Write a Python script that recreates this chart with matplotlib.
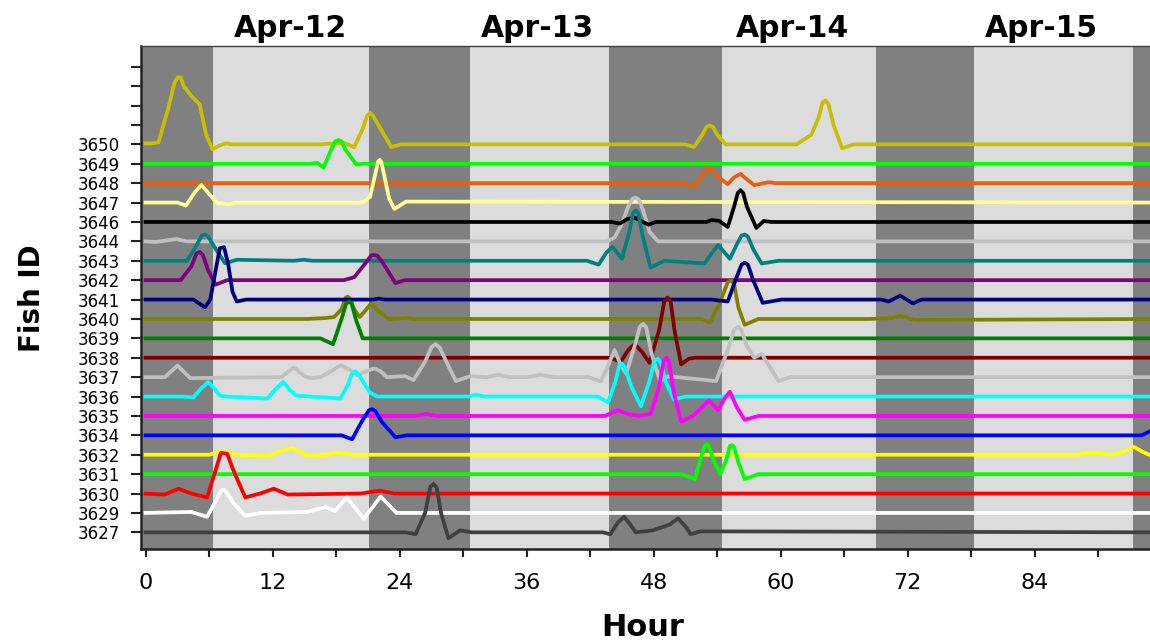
import matplotlib
matplotlib.use("Agg")
import matplotlib.pyplot as plt
from matplotlib.transforms import blended_transform_factory

# ---------------- data ----------------
fish_ids = ["3627", "3629", "3630", "3631", "3632", "3634", "3635", "3636", "3637",
            "3638", "3639", "3640", "3641", "3642", "3643", "3644", "3646", "3647",
            "3648", "3649", "3650"]

# activity traces: hour, offset above the fish's baseline (in row units)
h3650 = [-0.2, 0.5, 1.2, 2.2, 2.7, 3.0, 3.3, 3.6, 4.3, 5.1, 5.7, 6.3, 7.0, 7.6, 8.3, 16.3, 18.8, 19.7, 20.5, 20.9, 21.2, 21.5, 22.2, 23.2, 24.1, 51.0, 51.8, 52.6, 53.0, 53.3, 53.6, 54.0, 54.8, 61.5, 62.9, 63.6, 63.95, 64.2, 64.5, 65.0, 65.8, 66.9, 96.0]
v3650 = [0.05, 0.05, 0.1, 2.0, 3.15, 3.45, 3.45, 3.0, 2.5, 2.07, 0.5, -0.26, -0.05, 0.05, 0.0, 0.0, 0.07, -0.15, 0.8, 1.45, 1.62, 1.45, 0.8, -0.14, 0.0, 0.0, -0.14, 0.5, 0.9, 0.98, 0.9, 0.5, 0.0, 0.0, 0.5, 1.4, 2.15, 2.26, 2.1, 1.0, -0.2, 0.0, 0.0]
h3649 = [-0.2, 15.6, 16.2, 16.8, 17.5, 17.9, 18.2, 18.5, 18.9, 19.9, 20.5, 96.0]
v3649 = [0.0, 0.0, 0.05, -0.19, 0.7, 1.15, 1.22, 1.15, 0.7, -0.03, 0.0, 0.0]
h3648 = [-0.2, 50.6, 51.9, 52.6, 53.2, 53.9, 55.0, 55.6, 56.2, 56.8, 57.5, 58.9, 59.5, 96.0]
v3648 = [0.0, 0.0, -0.15, 0.45, 0.84, 0.4, -0.05, 0.3, 0.48, 0.2, -0.1, 0.05, 0.0, 0.0]
h3647 = [-0.2, 3.0, 3.8, 4.6, 5.25, 5.9, 6.7, 7.8, 8.5, 20.5, 21.2, 21.7, 21.95, 22.1, 22.25, 22.5, 23.0, 23.5, 24.6, 96.0]
v3647 = [0.0, 0.0, -0.15, 0.5, 0.91, 0.5, 0.0, -0.1, 0.0, 0.0, 0.3, 1.5, 2.1, 2.2, 2.1, 1.5, 0.2, -0.33, 0.05, 0.0]
h3646 = [-0.2, 44.0, 44.8, 45.5, 46.2, 46.8, 47.5, 48.2, 53.0, 53.5, 54.2, 55.0, 55.6, 55.95, 56.2, 56.45, 56.8, 57.7, 58.4, 59.1, 96.0]
v3646 = [0.0, 0.0, -0.08, 0.15, 0.22, 0.05, -0.14, 0.0, 0.0, 0.1, 0.05, -0.26, 0.8, 1.5, 1.64, 1.5, 0.8, -0.31, 0.05, 0.0, 0.0]
h3644 = [-0.2, 1.0, 2.0, 2.9, 3.8, 6.7, 43.6, 44.3, 44.9, 45.6, 46.0, 46.3, 46.6, 47.0, 47.6, 48.4, 96.0]
v3644 = [0.0, -0.03, 0.05, 0.12, 0.0, 0.0, 0.0, 0.2, 0.8, 1.8, 2.2, 2.25, 2.15, 1.6, 0.5, 0.0, 0.0]
h3643 = [-0.2, 3.9, 4.7, 5.3, 5.6, 5.9, 6.5, 7.5, 8.6, 14.0, 14.9, 15.8, 41.7, 42.8, 43.5, 44.1, 45.0, 45.7, 46.05, 46.3, 46.55, 46.9, 47.7, 49.0, 52.8, 53.5, 54.1, 55.2, 55.9, 56.3, 56.6, 56.9, 57.4, 58.2, 59.8, 96.0]
v3643 = [0.0, 0.0, 0.7, 1.3, 1.36, 1.25, 0.7, -0.13, 0.05, 0.0, 0.05, 0.0, 0.0, -0.2, 0.4, 0.72, 0.1, 1.5, 2.45, 2.6, 2.45, 1.4, -0.35, 0.0, -0.14, 0.4, 0.81, 0.1, 0.9, 1.3, 1.35, 1.25, 0.6, -0.14, 0.0, 0.0]
h3642 = [-0.2, 3.3, 4.3, 4.8, 5.1, 5.4, 5.9, 6.6, 7.7, 18.7, 19.7, 20.8, 21.3, 21.6, 21.9, 22.4, 23.6, 24.5, 96.0]
v3642 = [0.0, 0.0, 0.7, 1.38, 1.45, 1.3, 0.5, -0.23, 0.0, 0.0, 0.15, 0.9, 1.27, 1.3, 1.25, 0.9, -0.15, 0.0, 0.0]
h3641 = [-0.2, 4.5, 5.6, 6.1, 6.6, 7.0, 7.4, 7.8, 8.2, 8.6, 9.5, 21.5, 22.0, 22.6, 53.5, 55.0, 55.8, 56.3, 56.6, 56.9, 57.4, 58.3, 60.1, 69.5, 70.2, 71.3, 72.5, 73.3, 96.0]
v3641 = [0.0, 0.0, -0.4, 0.0, 1.5, 2.65, 2.7, 1.8, 0.4, -0.1, 0.0, 0.0, 0.05, 0.0, 0.0, -0.1, 1.1, 1.8, 1.9, 1.8, 1.0, -0.17, 0.0, 0.0, -0.1, 0.2, -0.2, 0.0, 0.0]
h3640 = [-0.2, 15.3, 17.0, 17.8, 18.5, 18.9, 19.1, 19.3, 19.7, 20.2, 20.7, 21.3, 22.0, 23.0, 24.7, 25.3, 52.5, 53.3, 54.3, 55.0, 55.3, 55.6, 56.0, 56.6, 57.9, 68.4, 70.5, 71.3, 72.0, 72.7, 96.0]
v3640 = [0.0, 0.0, 0.05, 0.1, 0.5, 1.1, 1.15, 1.05, 0.5, 0.1, 0.4, 0.8, 0.4, 0.0, 0.05, 0.0, 0.0, -0.2, 0.9, 1.9, 2.0, 1.8, 0.6, -0.3, 0.0, 0.0, 0.05, 0.15, 0.05, -0.05, 0.0]
h3639 = [-0.2, 16.5, 17.7, 18.5, 18.95, 19.2, 19.45, 19.9, 20.5, 96.0]
v3639 = [0.0, 0.0, -0.3, 1.0, 1.8, 1.9, 1.8, 0.9, 0.0, 0.0]
h3638 = [-0.2, 43.8, 44.9, 45.6, 46.2, 46.9, 47.6, 48.5, 49.0, 49.3, 49.6, 50.0, 50.6, 51.3, 51.9, 96.0]
v3638 = [0.0, 0.0, -0.2, 0.4, 0.7, 0.3, -0.26, 1.4, 2.9, 3.1, 2.9, 1.3, -0.34, -0.05, 0.0, 0.0]
h3637 = [-0.2, 1.8, 3.0, 4.2, 12.8, 14.0, 15.0, 15.6, 16.5, 17.5, 18.4, 19.2, 20.0, 20.8, 21.6, 22.2, 22.8, 24.5, 25.3, 26.4, 27.0, 27.4, 27.8, 28.4, 29.3, 30.7, 32.2, 33.3, 34.4, 36.0, 37.3, 38.6, 41.9, 43.0, 43.7, 44.3, 44.9, 45.4, 46.2, 46.7, 47.0, 47.3, 47.8, 48.6, 49.4, 50.2, 53.9, 55.0, 55.6, 56.0, 56.3, 56.8, 57.5, 58.2, 59.0, 59.8, 60.9, 96.0]
v3637 = [0.0, 0.0, 0.6, -0.05, 0.0, 0.5, 0.05, -0.05, 0.0, 0.3, 0.62, 0.4, 0.1, 0.3, 0.45, 0.3, 0.0, 0.05, -0.15, 0.8, 1.55, 1.7, 1.5, 0.8, -0.2, 0.05, 0.0, 0.12, 0.0, 0.0, 0.12, 0.0, 0.0, -0.23, 0.6, 1.4, 0.6, 0.18, 1.6, 2.6, 2.75, 2.55, 1.2, -0.2, 0.05, 0.0, -0.2, 1.4, 2.45, 2.6, 2.4, 1.6, 1.0, 1.2, 0.5, -0.2, 0.0, 0.0]
h3636 = [-0.2, 3.5, 4.5, 5.2, 5.9, 6.5, 7.0, 7.6, 11.5, 12.3, 13.0, 13.6, 14.2, 18.4, 19.1, 19.5, 19.8, 20.1, 20.5, 21.2, 21.9, 30.5, 31.2, 32.0, 42.7, 43.7, 44.4, 44.75, 45.0, 45.3, 45.9, 46.8, 47.6, 48.1, 48.4, 48.7, 49.1, 49.9, 51.0, 96.0]
v3636 = [0.0, 0.0, -0.05, 0.4, 0.75, 0.4, 0.05, 0.0, -0.1, 0.4, 0.75, 0.35, 0.05, -0.1, 0.6, 1.2, 1.3, 1.15, 0.8, 0.2, 0.0, 0.0, 0.1, 0.0, 0.0, -0.3, 0.8, 1.6, 1.7, 1.45, 0.5, -0.5, 0.8, 1.85, 1.95, 1.7, 0.8, -0.15, 0.0, 0.0]
h3635 = [-0.2, 25.5, 26.5, 27.5, 43.4, 44.6, 45.6, 46.6, 47.7, 48.5, 48.95, 49.2, 49.45, 49.9, 50.6, 51.7, 52.5, 53.2, 54.1, 54.7, 55.2, 55.9, 56.6, 57.9, 96.0]
v3635 = [0.0, 0.0, 0.1, 0.0, 0.0, 0.3, 0.1, 0.0, 0.1, 1.5, 2.85, 3.0, 2.8, 1.2, -0.3, 0.0, 0.4, 0.8, 0.3, 0.9, 1.25, 0.4, -0.2, 0.0, 0.0]
h3634 = [-0.2, 18.5, 19.5, 20.5, 21.1, 21.4, 21.7, 22.3, 23.6, 24.7, 94.1, 96.0]
v3634 = [0.0, 0.0, -0.2, 0.8, 1.3, 1.35, 1.25, 0.7, -0.1, 0.0, 0.0, 0.5]
h3632 = [-0.2, 6.0, 7.2, 8.5, 11.6, 12.8, 13.8, 14.6, 15.2, 17.0, 18.1, 19.6, 87.9, 89.4, 90.2, 91.6, 92.6, 93.4, 94.2, 94.8, 96.0]
v3632 = [0.0, 0.0, 0.2, 0.0, -0.05, 0.2, 0.35, 0.15, -0.05, 0.0, 0.1, 0.0, 0.0, 0.1, 0.05, 0.0, 0.2, 0.4, 0.15, 0.0, 0.0]
h3631 = [-0.2, 50.6, 51.9, 52.5, 52.8, 53.0, 53.2, 53.6, 54.3, 54.9, 55.2, 55.4, 55.6, 56.0, 56.6, 57.9, 96.0]
v3631 = [0.0, 0.0, -0.25, 0.9, 1.45, 1.55, 1.45, 0.8, 0.0, 0.8, 1.45, 1.5, 1.4, 0.6, -0.25, 0.0, 0.0]
h3630 = [-0.2, 1.8, 3.1, 4.3, 5.8, 6.6, 7.1, 7.7, 8.2, 9.4, 10.8, 12.1, 13.4, 20.3, 22.1, 23.5, 96.0]
v3630 = [0.0, -0.05, 0.25, 0.0, -0.2, 1.2, 2.1, 2.05, 1.3, -0.2, 0.0, 0.25, -0.05, 0.0, 0.15, 0.0, 0.0]
h3629 = [-0.2, 4.3, 5.8, 6.6, 7.1, 7.35, 7.6, 8.3, 9.4, 10.8, 15.2, 17.0, 17.9, 19.0, 20.6, 22.2, 23.7, 96.0]
v3629 = [0.0, 0.05, -0.2, 0.6, 1.15, 1.2, 1.1, 0.5, -0.15, 0.0, 0.05, 0.3, 0.1, 0.8, -0.3, 0.85, 0.0, 0.0]
h3627 = [-0.2, 24.6, 25.5, 26.4, 26.9, 27.2, 27.5, 27.9, 28.6, 29.7, 30.8, 43.2, 43.9, 44.6, 45.2, 45.8, 46.3, 47.9, 49.5, 50.3, 51.0, 51.5, 52.4, 96.0]
v3627 = [0.0, 0.0, -0.1, 1.0, 2.35, 2.5, 2.3, 1.0, -0.3, 0.1, 0.0, 0.0, -0.1, 0.5, 0.8, 0.4, 0.0, 0.1, 0.4, 0.72, 0.3, -0.1, 0.05, 0.0]

# dark (night) periods, hours
dark_start = [-1.0, 21.1, 43.8, 69.0, 93.3]
dark_end = [6.4, 30.6, 54.5, 78.3, 100.0]

day_labels = ["Apr-12", "Apr-13", "Apr-14", "Apr-15"]
day_label_hours = [13.7, 37.0, 61.1, 84.6]

hour_ticks = [0, 12, 24, 36, 48, 60, 72, 84]

# ---------------- styling ----------------
colors = {
    "3650": "#c8bf00", "3649": "#00ff00", "3648": "#e8600a", "3647": "#ffff99",
    "3646": "#000000", "3644": "#c0c0c0", "3643": "#008080", "3642": "#800080",
    "3641": "#000080", "3640": "#808000", "3639": "#008000", "3638": "#800000",
    "3637": "#c0c0c0", "3636": "#00ffff", "3635": "#ff00ff", "3634": "#0000ff",
    "3632": "#ffff00", "3631": "#00ff00", "3630": "#ff0000", "3629": "#ffffff",
    "3627": "#404040",
}
traces = {
    "3650": (h3650, v3650), "3649": (h3649, v3649), "3648": (h3648, v3648),
    "3647": (h3647, v3647), "3646": (h3646, v3646), "3644": (h3644, v3644),
    "3643": (h3643, v3643), "3642": (h3642, v3642), "3641": (h3641, v3641),
    "3640": (h3640, v3640), "3639": (h3639, v3639), "3638": (h3638, v3638),
    "3637": (h3637, v3637), "3636": (h3636, v3636), "3635": (h3635, v3635),
    "3634": (h3634, v3634), "3632": (h3632, v3632), "3631": (h3631, v3631),
    "3630": (h3630, v3630), "3629": (h3629, v3629), "3627": (h3627, v3627),
}

plt.rcParams["font.family"] = ["DejaVu Sans"]

fig = plt.figure(figsize=(11.5, 6.41), dpi=100)
ax = fig.add_axes([0.1226, 0.1435, 0.8774, 0.7847])
ax.set_facecolor("#dcdcdc")

for s, e in zip(dark_start, dark_end):
    ax.axvspan(s, e, color="#808080", zorder=0, lw=0)

n = len(fish_ids)
for i, fid in enumerate(fish_ids):
    hrs, vals = traces[fid]
    z = 2 + (n - i) * 0.1  # upper rows drawn first, lower rows on top
    if fid == "3641":
        z = 2 + (n - fish_ids.index("3640")) * 0.1 + 0.05
    if fid == "3646":
        z = 2 + (n - fish_ids.index("3644")) * 0.1 + 0.05
    ax.plot(hrs, [i + v for v in vals], color=colors[fid], lw=2.7,
            solid_joinstyle="round", solid_capstyle="butt", zorder=z)

ax.set_xlim(-0.45, 94.9)
ax.set_ylim(-0.86, 25.07)

ax.set_yticks(range(25))
ax.set_yticklabels(fish_ids + [""] * (25 - n))
ax.tick_params(axis="y", length=7, width=1.5, pad=8, labelsize=12, direction="out", color="#222222")

ax.set_xticks(range(0, 91, 6))
ax.set_xticklabels([str(t) if t in hour_ticks else "" for t in range(0, 91, 6)])
ax.tick_params(axis="x", length=6, width=1.5, pad=11, labelsize=16, direction="out", color="#222222")

ax.spines["right"].set_visible(False)
ax.spines["left"].set_linewidth(1.8)
ax.spines["left"].set_color("#222222")
ax.spines["bottom"].set_linewidth(1.8)
ax.spines["bottom"].set_color("#222222")
ax.spines["top"].set_linewidth(1.0)
ax.spines["top"].set_color("#404040")

trans = blended_transform_factory(ax.transData, fig.transFigure)
for lab, hx in zip(day_labels, day_label_hours):
    ax.text(hx, 0.9415, lab, transform=trans, ha="center", va="baseline",
            fontsize=21.5, fontweight="bold", clip_on=False)

fig.text(0.028, 0.535, "Fish ID", rotation=90, ha="center", va="center",
         fontsize=20, fontweight="bold")
fig.text(0.559, 0.008, "Hour", ha="center", va="baseline",
         fontsize=22, fontweight="bold")

fig.savefig("out.png", dpi=100)
